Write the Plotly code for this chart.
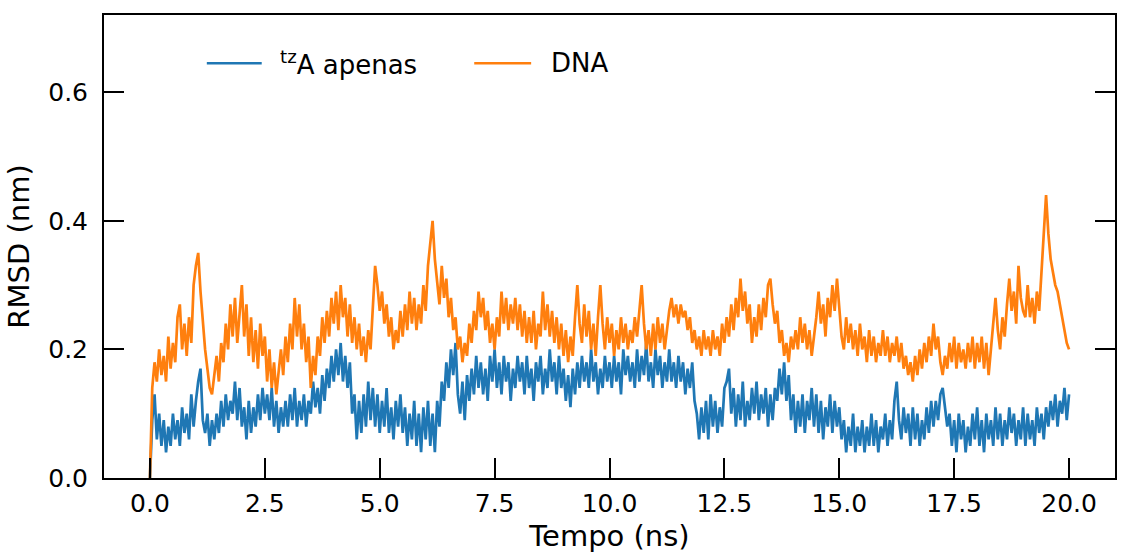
import plotly.graph_objects as go

# time axis (ns), 0.05 ns sampling
time_ns = [round(i * 0.05, 2) for i in range(401)]

# RMSD (nm) of tzA only (one row per ns: t = k+0.05 ... k+1.00)
rmsd_tza = [0.00,
    0.09, 0.13, 0.06, 0.10, 0.05, 0.09, 0.04, 0.08, 0.05, 0.10, 0.06, 0.09, 0.05, 0.11, 0.07, 0.10, 0.06, 0.13, 0.08, 0.12,
    0.15, 0.17, 0.09, 0.07, 0.10, 0.05, 0.09, 0.06, 0.10, 0.07, 0.12, 0.08, 0.13, 0.09, 0.12, 0.10, 0.15, 0.09, 0.14, 0.08,
    0.11, 0.06, 0.12, 0.07, 0.11, 0.08, 0.13, 0.09, 0.14, 0.10, 0.13, 0.09, 0.14, 0.08, 0.12, 0.07, 0.11, 0.08, 0.12, 0.08,
    0.13, 0.09, 0.14, 0.08, 0.12, 0.09, 0.13, 0.08, 0.12, 0.10, 0.15, 0.11, 0.14, 0.10, 0.16, 0.12, 0.17, 0.14, 0.19, 0.15,
    0.20, 0.16, 0.21, 0.15, 0.19, 0.14, 0.18, 0.10, 0.13, 0.06, 0.12, 0.07, 0.13, 0.08, 0.15, 0.09, 0.14, 0.08, 0.13, 0.07,
    0.12, 0.08, 0.14, 0.07, 0.11, 0.06, 0.12, 0.08, 0.13, 0.07, 0.11, 0.05, 0.10, 0.06, 0.12, 0.05, 0.10, 0.04, 0.11, 0.06,
    0.12, 0.05, 0.10, 0.04, 0.12, 0.08, 0.15, 0.12, 0.18, 0.14, 0.20, 0.16, 0.21, 0.13, 0.10, 0.15, 0.09, 0.16, 0.12, 0.17,
    0.13, 0.19, 0.14, 0.18, 0.13, 0.17, 0.12, 0.19, 0.15, 0.20, 0.14, 0.18, 0.13, 0.19, 0.15, 0.18, 0.12, 0.17, 0.14, 0.19,
    0.15, 0.18, 0.13, 0.19, 0.14, 0.17, 0.12, 0.18, 0.15, 0.19, 0.13, 0.17, 0.14, 0.20, 0.15, 0.18, 0.13, 0.19, 0.14, 0.17,
    0.12, 0.16, 0.11, 0.17, 0.13, 0.18, 0.14, 0.19, 0.15, 0.18, 0.14, 0.20, 0.15, 0.18, 0.13, 0.17, 0.14, 0.19, 0.15, 0.18,
    0.14, 0.19, 0.15, 0.18, 0.13, 0.20, 0.16, 0.19, 0.15, 0.18, 0.14, 0.20, 0.15, 0.19, 0.16, 0.21, 0.15, 0.18, 0.14, 0.20,
    0.16, 0.19, 0.14, 0.18, 0.15, 0.20, 0.15, 0.18, 0.14, 0.19, 0.15, 0.18, 0.13, 0.17, 0.14, 0.18, 0.12, 0.10, 0.06, 0.11,
    0.07, 0.12, 0.06, 0.13, 0.08, 0.12, 0.07, 0.11, 0.08, 0.14, 0.15, 0.17, 0.10, 0.14, 0.08, 0.13, 0.09, 0.15, 0.08, 0.12,
    0.09, 0.14, 0.10, 0.15, 0.09, 0.13, 0.10, 0.14, 0.08, 0.13, 0.09, 0.14, 0.12, 0.17, 0.13, 0.18, 0.12, 0.16, 0.09, 0.13,
    0.07, 0.12, 0.08, 0.13, 0.07, 0.12, 0.09, 0.14, 0.08, 0.13, 0.07, 0.12, 0.06, 0.11, 0.08, 0.13, 0.07, 0.12, 0.08, 0.11,
    0.06, 0.09, 0.04, 0.08, 0.05, 0.10, 0.04, 0.08, 0.05, 0.09, 0.04, 0.08, 0.05, 0.10, 0.05, 0.09, 0.04, 0.08, 0.06, 0.10,
    0.05, 0.09, 0.06, 0.12, 0.15, 0.09, 0.06, 0.11, 0.07, 0.10, 0.05, 0.11, 0.06, 0.10, 0.05, 0.09, 0.06, 0.11, 0.07, 0.12,
    0.08, 0.12, 0.09, 0.13, 0.14, 0.11, 0.08, 0.10, 0.05, 0.09, 0.04, 0.10, 0.06, 0.09, 0.04, 0.08, 0.05, 0.10, 0.06, 0.11,
    0.05, 0.09, 0.04, 0.10, 0.06, 0.09, 0.05, 0.11, 0.06, 0.10, 0.05, 0.09, 0.06, 0.11, 0.07, 0.10, 0.05, 0.09, 0.06, 0.11,
    0.05, 0.10, 0.06, 0.09, 0.05, 0.11, 0.07, 0.10, 0.06, 0.11, 0.08, 0.12, 0.09, 0.13, 0.08, 0.12, 0.10, 0.14, 0.09, 0.13,
]

# RMSD (nm) of DNA
rmsd_dna = [0.00,
    0.14, 0.18, 0.15, 0.20, 0.16, 0.19, 0.15, 0.22, 0.17, 0.21, 0.18, 0.25, 0.27, 0.20, 0.24, 0.19, 0.25, 0.21, 0.30, 0.33,
    0.35, 0.29, 0.24, 0.20, 0.17, 0.14, 0.13, 0.16, 0.19, 0.15, 0.21, 0.18, 0.24, 0.20, 0.27, 0.22, 0.28, 0.21, 0.26, 0.30,
    0.22, 0.27, 0.19, 0.25, 0.18, 0.23, 0.17, 0.24, 0.19, 0.22, 0.15, 0.20, 0.14, 0.18, 0.13, 0.17, 0.20, 0.16, 0.22, 0.18,
    0.24, 0.20, 0.28, 0.22, 0.27, 0.20, 0.24, 0.18, 0.22, 0.14, 0.19, 0.16, 0.22, 0.19, 0.25, 0.21, 0.26, 0.22, 0.28, 0.24,
    0.29, 0.23, 0.30, 0.25, 0.28, 0.22, 0.27, 0.21, 0.25, 0.20, 0.24, 0.19, 0.22, 0.18, 0.23, 0.20, 0.27, 0.33, 0.30, 0.26,
    0.29, 0.24, 0.27, 0.22, 0.25, 0.20, 0.23, 0.21, 0.26, 0.22, 0.27, 0.23, 0.29, 0.24, 0.28, 0.23, 0.27, 0.24, 0.30, 0.26,
    0.33, 0.37, 0.40, 0.34, 0.30, 0.27, 0.33, 0.28, 0.31, 0.25, 0.28, 0.23, 0.25, 0.20, 0.22, 0.18, 0.21, 0.19, 0.24, 0.21,
    0.26, 0.23, 0.29, 0.25, 0.28, 0.23, 0.26, 0.21, 0.24, 0.20, 0.25, 0.22, 0.29, 0.24, 0.28, 0.23, 0.27, 0.24, 0.28, 0.23,
    0.27, 0.22, 0.26, 0.21, 0.25, 0.21, 0.26, 0.20, 0.24, 0.22, 0.29, 0.23, 0.27, 0.22, 0.26, 0.21, 0.25, 0.20, 0.24, 0.19,
    0.23, 0.18, 0.22, 0.19, 0.25, 0.30, 0.24, 0.21, 0.27, 0.22, 0.26, 0.20, 0.24, 0.19, 0.25, 0.30, 0.24, 0.20, 0.25, 0.21,
    0.24, 0.19, 0.23, 0.20, 0.25, 0.21, 0.24, 0.20, 0.23, 0.21, 0.25, 0.22, 0.26, 0.30, 0.24, 0.20, 0.23, 0.19, 0.24, 0.20,
    0.25, 0.21, 0.24, 0.20, 0.23, 0.26, 0.28, 0.25, 0.27, 0.24, 0.27, 0.25, 0.26, 0.23, 0.25, 0.21, 0.23, 0.20, 0.22, 0.19,
    0.23, 0.20, 0.22, 0.19, 0.23, 0.20, 0.22, 0.19, 0.24, 0.21, 0.25, 0.22, 0.27, 0.23, 0.28, 0.25, 0.31, 0.26, 0.29, 0.24,
    0.27, 0.21, 0.25, 0.22, 0.27, 0.23, 0.28, 0.25, 0.30, 0.31, 0.27, 0.24, 0.26, 0.21, 0.23, 0.19, 0.21, 0.18, 0.22, 0.20,
    0.23, 0.20, 0.25, 0.21, 0.24, 0.20, 0.23, 0.19, 0.22, 0.25, 0.29, 0.24, 0.27, 0.22, 0.28, 0.25, 0.30, 0.26, 0.31, 0.27,
    0.22, 0.20, 0.25, 0.21, 0.24, 0.20, 0.23, 0.19, 0.24, 0.20, 0.22, 0.18, 0.23, 0.19, 0.22, 0.18, 0.21, 0.19, 0.23, 0.19,
    0.22, 0.18, 0.21, 0.19, 0.22, 0.18, 0.21, 0.17, 0.19, 0.16, 0.18, 0.15, 0.19, 0.16, 0.20, 0.17, 0.21, 0.18, 0.22, 0.19,
    0.24, 0.20, 0.22, 0.18, 0.16, 0.19, 0.17, 0.21, 0.18, 0.22, 0.17, 0.21, 0.18, 0.20, 0.17, 0.21, 0.18, 0.22, 0.17, 0.21,
    0.18, 0.22, 0.17, 0.21, 0.16, 0.20, 0.24, 0.28, 0.23, 0.20, 0.25, 0.22, 0.27, 0.31, 0.26, 0.29, 0.24, 0.33, 0.28, 0.26,
    0.25, 0.30, 0.25, 0.28, 0.24, 0.29, 0.26, 0.32, 0.37, 0.44, 0.38, 0.34, 0.32, 0.30, 0.29, 0.27, 0.25, 0.23, 0.21, 0.20,
]

assert len(rmsd_tza) == len(time_ns) == len(rmsd_dna)

series_names = ["<sup>tz</sup>A apenas", "DNA"]
series_colors = ["#1f77b4", "#ff7f0e"]

x_tickvals = [0, 2.5, 5, 7.5, 10, 12.5, 15, 17.5, 20]
x_ticktext = ["0.0", "2.5", "5.0", "7.5", "10.0", "12.5", "15.0", "17.5", "20.0"]
y_tickvals = [0.0, 0.2, 0.4, 0.6]
y_ticktext = ["0.0", "0.2", "0.4", "0.6"]

FONT = "DejaVu Sans"

fig = go.Figure()
fig.add_trace(go.Scatter(x=time_ns, y=rmsd_tza, mode="lines", name=series_names[0],
                         line=dict(color=series_colors[0], width=2.7), showlegend=False))
fig.add_trace(go.Scatter(x=time_ns, y=rmsd_dna, mode="lines", name=series_names[1], yaxis="y2",
                         line=dict(color=series_colors[1], width=2.7), showlegend=False))

# manual legend (paper coordinates)
leg_y = 0.896
for (x0, x1, xt), name, col in zip([(0.1017, 0.1560, 0.1720), (0.3662, 0.4225, 0.4405)],
                                   series_names, series_colors):
    fig.add_shape(type="line", xref="paper", yref="paper", x0=x0, x1=x1, y0=leg_y, y1=leg_y,
                  line=dict(color=col, width=2.5))
    fig.add_annotation(xref="paper", yref="paper", x=xt, y=leg_y, text=name, showarrow=False,
                       xanchor="left", yanchor="middle",
                       font=dict(family=FONT, size=26, color="#000"))

fig.update_layout(
    width=1121, height=556,
    margin=dict(l=104, r=4, t=15, b=78),
    paper_bgcolor="white", plot_bgcolor="white",
    font=dict(family=FONT, color="#000"),
    xaxis=dict(range=[-1, 21], tickvals=x_tickvals, ticktext=x_ticktext,
               ticks="inside", ticklen=20, tickwidth=2, tickcolor="#000",
               showline=True, linecolor="#000", linewidth=2, mirror=True,
               showgrid=False, zeroline=False, ticklabelstandoff=2,
               tickfont=dict(family=FONT, size=25),
               title=dict(text="Tempo (ns)", font=dict(family=FONT, size=29), standoff=9)),
    yaxis=dict(range=[0, 0.72], tickvals=y_tickvals, ticktext=y_ticktext,
               ticks="inside", ticklen=20, tickwidth=2, tickcolor="#000",
               showline=True, linecolor="#000", linewidth=2, mirror=True,
               showgrid=False, zeroline=False, ticklabelstandoff=9,
               tickfont=dict(family=FONT, size=25),
               title=dict(text="RMSD (nm)", font=dict(family=FONT, size=29), standoff=10)),
    yaxis2=dict(range=[0, 0.72], overlaying="y", side="right", anchor="x",
                tickvals=y_tickvals, ticks="inside", ticklen=20, tickwidth=2, tickcolor="#000",
                showticklabels=False, showgrid=False, zeroline=False, showline=False),
)

fig.write_html("out.html")
